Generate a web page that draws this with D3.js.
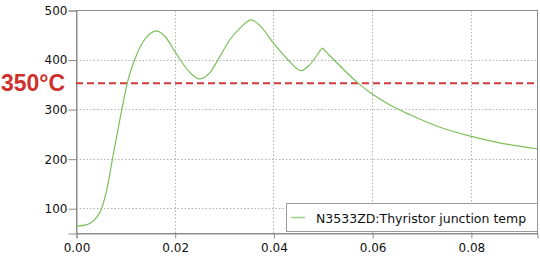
<!DOCTYPE html>
<html>
<head>
<meta charset="utf-8">
<script src="https://cdn.jsdelivr.net/npm/d3@7"></script>
<style>
  body { margin: 0; background: #fff; }
  svg { display: block; }
</style>
</head>
<body>
<svg id="chart" width="540" height="258"></svg>
<script>
// values
const timeS = [0, 0.0022, 0.0042, 0.0052, 0.0063, 0.0074, 0.0093, 0.0104, 0.0119, 0.0136, 0.0150, 0.0163,
  0.0180, 0.0203, 0.0230, 0.0250, 0.0270, 0.0288, 0.0311, 0.0335, 0.0355, 0.0375, 0.0400, 0.0430,
  0.0456, 0.0473, 0.0492, 0.0499, 0.0506, 0.0534, 0.0571, 0.0598, 0.0635, 0.0676, 0.0736, 0.0797,
  0.0858, 0.0934]
const junctionTemp = [64, 67, 82, 100, 140, 200, 300, 353, 400, 436, 452, 458,
  447, 412, 375, 361, 372, 400, 439, 466, 480, 466, 433, 399,
  377.5, 389, 414, 423, 416, 388, 353, 332, 309, 289, 264, 246,
  232, 220]
const xTicks = [0, 0.02, 0.04, 0.06, 0.08]
const yTicks = [100, 200, 300, 400, 500]
const limitValue = 352
const limitLabel = '350°C'
const seriesName = 'N3533ZD:Thyristor junction temp'

const margin = { left: 76, top: 10, right: 3, bottom: 25 }
const width = 540, height = 258
const svg = d3.select('#chart')

const x = d3.scaleLinear().domain([0, 0.0934]).range([margin.left, width - margin.right])
const y = d3.scaleLinear().domain([50, 500]).range([height - margin.bottom, margin.top])

// grid (dotted)
svg.append('g')
    .selectAll('line')
    .data(xTicks.filter(d => d > 0))
    .join('line')
    .attr('x1', d => Math.round(x(d)) + 0.5).attr('x2', d => Math.round(x(d)) + 0.5)
    .attr('y1', y(50)).attr('y2', y(500))
    .attr('stroke', '#b4b4b4').attr('stroke-dasharray', '1.5,2')

svg.append('g')
    .selectAll('line')
    .data(yTicks.filter(d => d < 500))
    .join('line')
    .attr('x1', x.range()[0]).attr('x2', x.range()[1])
    .attr('y1', d => Math.round(y(d)) + 0.5).attr('y2', d => Math.round(y(d)) + 0.5)
    .attr('stroke', '#b4b4b4').attr('stroke-dasharray', '1.5,2')

// border (top / right)
svg.append('rect')
    .attr('x', x.range()[0] + 0.5).attr('y', y(500) + 0.5)
    .attr('width', x.range()[1] - x.range()[0]).attr('height', y(50) - y(500))
    .attr('fill', 'none').attr('stroke', '#8c8c8c')

// axes
const xAxis = svg.append('g')
    .attr('transform', `translate(0.5,${y(50) + 0.5})`)
    .call(d3.axisBottom(x).tickValues(xTicks).tickFormat(d3.format('.2f')).tickSize(5).tickPadding(5))
const yAxis = svg.append('g')
    .attr('transform', `translate(${x.range()[0] + 0.5},0.5)`)
    .call(d3.axisLeft(y).tickValues(yTicks).tickSize(8).tickPadding(1))

for (const ax of [xAxis, yAxis]) {
    ax.select('.domain').attr('stroke', '#8c8c8c')
    ax.selectAll('.tick line').attr('stroke', '#8c8c8c')
    ax.selectAll('text')
        .style('font-family', '"DejaVu Sans", Verdana, sans-serif')
        .style('font-size', '12px')
        .attr('fill', '#111')
}

// limit line
svg.append('line')
    .attr('x1', x.range()[0]).attr('x2', x.range()[1])
    .attr('y1', y(limitValue)).attr('y2', y(limitValue))
    .attr('stroke', '#cf3b3b').attr('stroke-width', 2)
    .attr('stroke-dasharray', '7,4')

svg.append('text')
    .attr('x', 1).attr('y', y(limitValue) + 8)
    .style('font-family', '"Liberation Sans", Arial, sans-serif')
    .style('font-weight', 'bold')
    .style('font-size', '23px')
    .attr('fill', '#d0302c')
    .text(limitLabel)

// series
const line = d3.line()
    .x(d => x(d[0]))
    .y(d => y(d[1]))
    .curve(d3.curveMonotoneX)

svg.append('path')
    .datum(d3.zip(timeS, junctionTemp))
    .attr('d', line)
    .attr('fill', 'none')
    .attr('stroke', '#7dbf5a')
    .attr('stroke-width', 1.2)

// legend
const lg = svg.append('g').attr('transform', 'translate(286,203)')
lg.append('rect')
    .attr('x', 0.5).attr('y', 0.5)
    .attr('width', 251).attr('height', 28)
    .attr('fill', '#fff').attr('stroke', '#9a9a9a')
lg.append('line')
    .attr('x1', 5).attr('x2', 19).attr('y1', 14.5).attr('y2', 14.5)
    .attr('stroke', '#9fd089').attr('stroke-width', 1.5)
lg.append('text')
    .attr('x', 30).attr('y', 19.5)
    .style('font-family', '"DejaVu Sans", Verdana, sans-serif')
    .style('font-size', '12.5px')
    .attr('fill', '#111')
    .text(seriesName)
</script>
</body>
</html>
